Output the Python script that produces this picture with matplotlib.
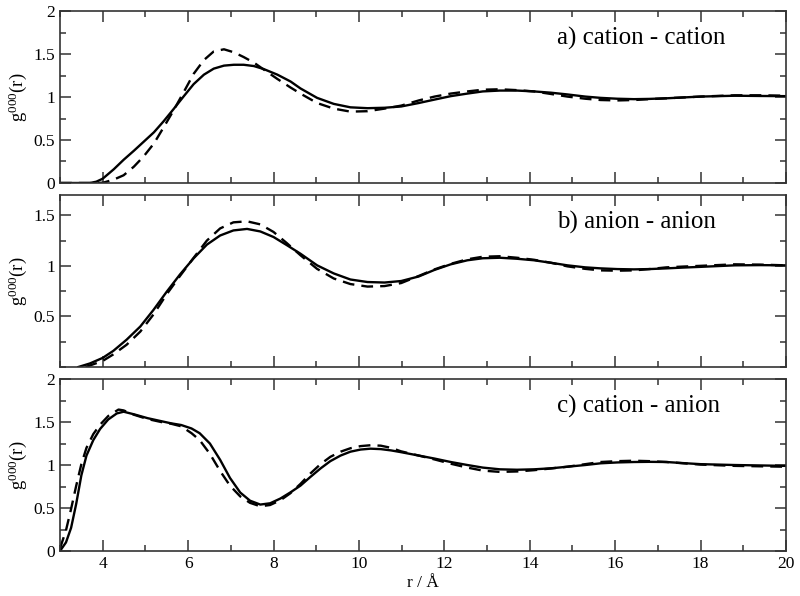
import matplotlib
matplotlib.use('Agg')
import matplotlib.pyplot as plt
from matplotlib.ticker import MultipleLocator, FormatStrFormatter

plt.rcParams['font.family'] = 'serif'
plt.rcParams['font.serif'] = ['Liberation Serif', 'DejaVu Serif']
plt.rcParams['mathtext.fontset'] = 'custom'
plt.rcParams['mathtext.rm'] = 'Liberation Serif'
plt.rcParams['mathtext.it'] = 'Liberation Serif:italic'

# a) cation - cation
a_solid_r = [3.0, 3.5, 3.7, 3.85, 4.0, 4.26, 4.49, 4.73, 4.96, 5.2, 5.43, 5.66, 5.9, 6.13,
             6.37, 6.6, 6.84, 7.07, 7.3, 7.54, 7.77, 8.09, 8.4, 8.63, 9.02, 9.41, 9.8,
             10.2, 10.6, 10.99, 11.4, 11.77, 12.15, 12.54, 12.9, 13.3, 13.7, 14.1, 14.5,
             14.88, 15.3, 15.66, 16.05, 16.44, 16.8, 17.2, 17.6, 18.0, 18.8, 19.4, 20.0]
a_solid_g = [0.0, 0.0, 0.0, 0.015, 0.05, 0.16, 0.27, 0.375, 0.48, 0.59, 0.72, 0.86, 1.01, 1.15,
             1.26, 1.33, 1.365, 1.375, 1.375, 1.36, 1.325, 1.26, 1.18, 1.10, 0.99, 0.92, 0.88,
             0.87, 0.875, 0.89, 0.93, 0.97, 1.01, 1.04, 1.065, 1.075, 1.075, 1.065, 1.05,
             1.03, 1.005, 0.99, 0.98, 0.975, 0.978, 0.985, 0.995, 1.005, 1.015, 1.012, 1.01]
a_dash_r = [3.0, 3.5, 3.9, 4.02, 4.26, 4.49, 4.73, 4.96, 5.2, 5.43, 5.66, 5.9, 6.13, 6.37,
            6.6, 6.84, 7.07, 7.3, 7.54, 7.77, 8.09, 8.4, 8.63, 9.02, 9.41, 9.8, 10.2, 10.6,
            10.99, 11.4, 11.77, 12.15, 12.54, 12.9, 13.3, 13.7, 14.1, 14.5, 14.88, 15.3,
            15.66, 16.05, 16.44, 16.8, 17.2, 17.6, 18.0, 18.8, 19.4, 20.0]
a_dash_g = [0.0, 0.0, 0.0, 0.005, 0.04, 0.09, 0.19, 0.31, 0.46, 0.65, 0.845, 1.06, 1.27, 1.43,
            1.53, 1.555, 1.52, 1.465, 1.40, 1.32, 1.21, 1.11, 1.04, 0.93, 0.865, 0.83, 0.835, 0.865,
            0.90, 0.96, 1.005, 1.04, 1.065, 1.085, 1.09, 1.08, 1.065, 1.035, 1.005, 0.98,
            0.965, 0.96, 0.965, 0.975, 0.985, 0.995, 1.005, 1.02, 1.02, 1.015]

# b) anion - anion
b_solid_r = [3.43, 3.7, 4.0, 4.25, 4.56, 4.88, 5.19, 5.5, 5.81, 6.13, 6.44, 6.75, 7.06, 7.38,
             7.69, 8.0, 8.31, 8.63, 9.02, 9.41, 9.8, 10.2, 10.6, 10.99, 11.4, 11.77, 12.15,
             12.54, 12.9, 13.3, 13.7, 14.1, 14.5, 14.88, 15.3, 15.66, 16.05, 16.44, 16.8,
             17.2, 17.6, 18.0, 18.8, 19.4, 20.0]
b_solid_g = [0.0, 0.035, 0.09, 0.16, 0.27, 0.40, 0.565, 0.745, 0.915, 1.075, 1.21, 1.30, 1.35, 1.365,
             1.34, 1.285, 1.205, 1.12, 1.005, 0.925, 0.865, 0.84, 0.835, 0.85, 0.895, 0.96, 1.015,
             1.055, 1.075, 1.08, 1.07, 1.055, 1.03, 1.005, 0.985, 0.975, 0.968, 0.965, 0.968,
             0.975, 0.983, 0.99, 1.005, 1.007, 1.005]
b_dash_r = [3.6, 4.0, 4.25, 4.56, 4.88, 5.19, 5.5, 5.81, 6.13, 6.44, 6.75, 7.06, 7.38, 7.69,
            8.0, 8.31, 8.63, 9.02, 9.41, 9.8, 10.2, 10.6, 10.99, 11.4, 11.77, 12.15, 12.54,
            12.9, 13.3, 13.7, 14.1, 14.5, 14.88, 15.3, 15.66, 16.05, 16.44, 16.8, 17.2, 17.6,
            18.0, 18.8, 19.4, 20.0]
b_dash_g = [0.0, 0.06, 0.125, 0.22, 0.35, 0.52, 0.72, 0.90, 1.08, 1.25, 1.37, 1.43, 1.44, 1.41,
            1.335, 1.225, 1.105, 0.97, 0.875, 0.82, 0.795, 0.80, 0.83, 0.90, 0.965, 1.02, 1.065,
            1.09, 1.095, 1.08, 1.06, 1.03, 0.995, 0.97, 0.955, 0.952, 0.955, 0.968, 0.985, 0.993,
            1.0, 1.015, 1.012, 1.005]

# c) cation - anion
c_solid_r = [3.0, 3.14, 3.26, 3.38, 3.5, 3.62, 3.78, 3.94, 4.13, 4.33, 4.49, 4.73, 5.05, 5.37,
             5.6, 5.84, 6.08, 6.27, 6.51, 6.75, 6.98, 7.22, 7.45, 7.69, 7.92, 8.16, 8.39, 8.63,
             8.86, 9.1, 9.33, 9.57, 9.8, 10.04, 10.27, 10.51, 10.75, 10.98, 11.4, 11.77, 12.15,
             12.54, 12.9, 13.3, 13.7, 14.1, 14.5, 14.88, 15.3, 15.66, 16.05, 16.44, 16.8, 17.2,
             17.6, 18.0, 18.8, 19.4, 20.0]
c_solid_g = [0.0, 0.10, 0.27, 0.55, 0.88, 1.11, 1.29, 1.42, 1.53, 1.60, 1.62, 1.59, 1.545, 1.51,
             1.485, 1.465, 1.425, 1.37, 1.25, 1.06, 0.85, 0.68, 0.585, 0.54, 0.555, 0.61, 0.68, 0.76,
             0.86, 0.96, 1.045, 1.11, 1.155, 1.18, 1.19, 1.185, 1.17, 1.15, 1.11, 1.075, 1.035,
             1.0, 0.97, 0.95, 0.945, 0.95, 0.962, 0.98, 1.0, 1.02, 1.03, 1.035, 1.037, 1.035,
             1.022, 1.01, 1.0, 0.995, 0.99]
c_dash_r = [3.0, 3.14, 3.26, 3.38, 3.5, 3.62, 3.78, 3.94, 4.13, 4.37, 4.49, 4.73, 5.05, 5.37,
            5.6, 5.84, 6.08, 6.27, 6.51, 6.75, 6.98, 7.22, 7.45, 7.69, 7.92, 8.16, 8.39, 8.63,
            8.86, 9.1, 9.33, 9.57, 9.8, 10.04, 10.27, 10.51, 10.75, 10.98, 11.4, 11.77, 12.15,
            12.54, 12.9, 13.3, 13.7, 14.1, 14.5, 14.88, 15.3, 15.66, 16.05, 16.44, 16.8, 17.2,
            17.6, 18.0, 18.8, 19.4, 20.0]
c_dash_g = [0.03, 0.24, 0.49, 0.76, 1.01, 1.20, 1.36, 1.47, 1.57, 1.645, 1.635, 1.585, 1.535, 1.50,
            1.48, 1.45, 1.37, 1.29, 1.13, 0.93, 0.76, 0.635, 0.56, 0.52, 0.535, 0.59, 0.67, 0.78,
            0.90, 1.01, 1.095, 1.155, 1.195, 1.22, 1.23, 1.225, 1.20, 1.16, 1.11, 1.065, 1.015,
            0.97, 0.935, 0.92, 0.925, 0.94, 0.96, 0.98, 1.01, 1.035, 1.045, 1.05, 1.045, 1.035,
            1.02, 1.005, 0.99, 0.985, 0.98]

panels = [
    ('a) cation - cation', a_solid_r, a_solid_g, a_dash_r, a_dash_g, 2.0),
    ('b) anion - anion', b_solid_r, b_solid_g, b_dash_r, b_dash_g, 1.7),
    ('c) cation - anion', c_solid_r, c_solid_g, c_dash_r, c_dash_g, 2.0),
]

fig, axes = plt.subplots(3, 1, sharex=True, figsize=(8, 5.96), dpi=100)
fig.subplots_adjust(left=0.075, right=0.9825, top=0.9815, bottom=0.0755, hspace=0.07)

for i, (label, sr, sg, dr, dg, ytop) in enumerate(panels):
    ax = axes[i]
    ax.plot(sr, sg, color='black', lw=1.7, solid_joinstyle='round')
    ax.plot(dr, dg, color='black', lw=1.7, dashes=(5, 3))

    ax.set_xlim(3, 20)
    ax.set_ylim(0, ytop)
    ax.xaxis.set_major_locator(MultipleLocator(2))
    ax.xaxis.set_minor_locator(MultipleLocator(1))
    ax.yaxis.set_major_locator(MultipleLocator(0.5))
    ax.yaxis.set_minor_locator(MultipleLocator(0.25))
    ax.yaxis.set_major_formatter(FormatStrFormatter('%g'))
    ax.tick_params(which='both', direction='in', top=True, right=True, labelsize=12.5,
                   color='#333333')
    ax.tick_params(which='major', length=8, width=1.1)
    ax.tick_params(which='minor', length=4.5, width=1.1)
    for sp in ax.spines.values():
        sp.set_linewidth(1.2)
        sp.set_color('#333333')

    ax.set_ylabel(r'g$^{\mathrm{000}}$(r)', fontsize=13.5, labelpad=3)
    ax.text(0.684, 0.84, label, transform=ax.transAxes, fontsize=18,
            ha='left', va='center')

# panel b has no label at 0
axes[1].set_yticks([0.5, 1.0, 1.5])
axes[2].set_xlabel('r / Å', fontsize=12.5, labelpad=2)

fig.savefig('out.png', dpi=100)
